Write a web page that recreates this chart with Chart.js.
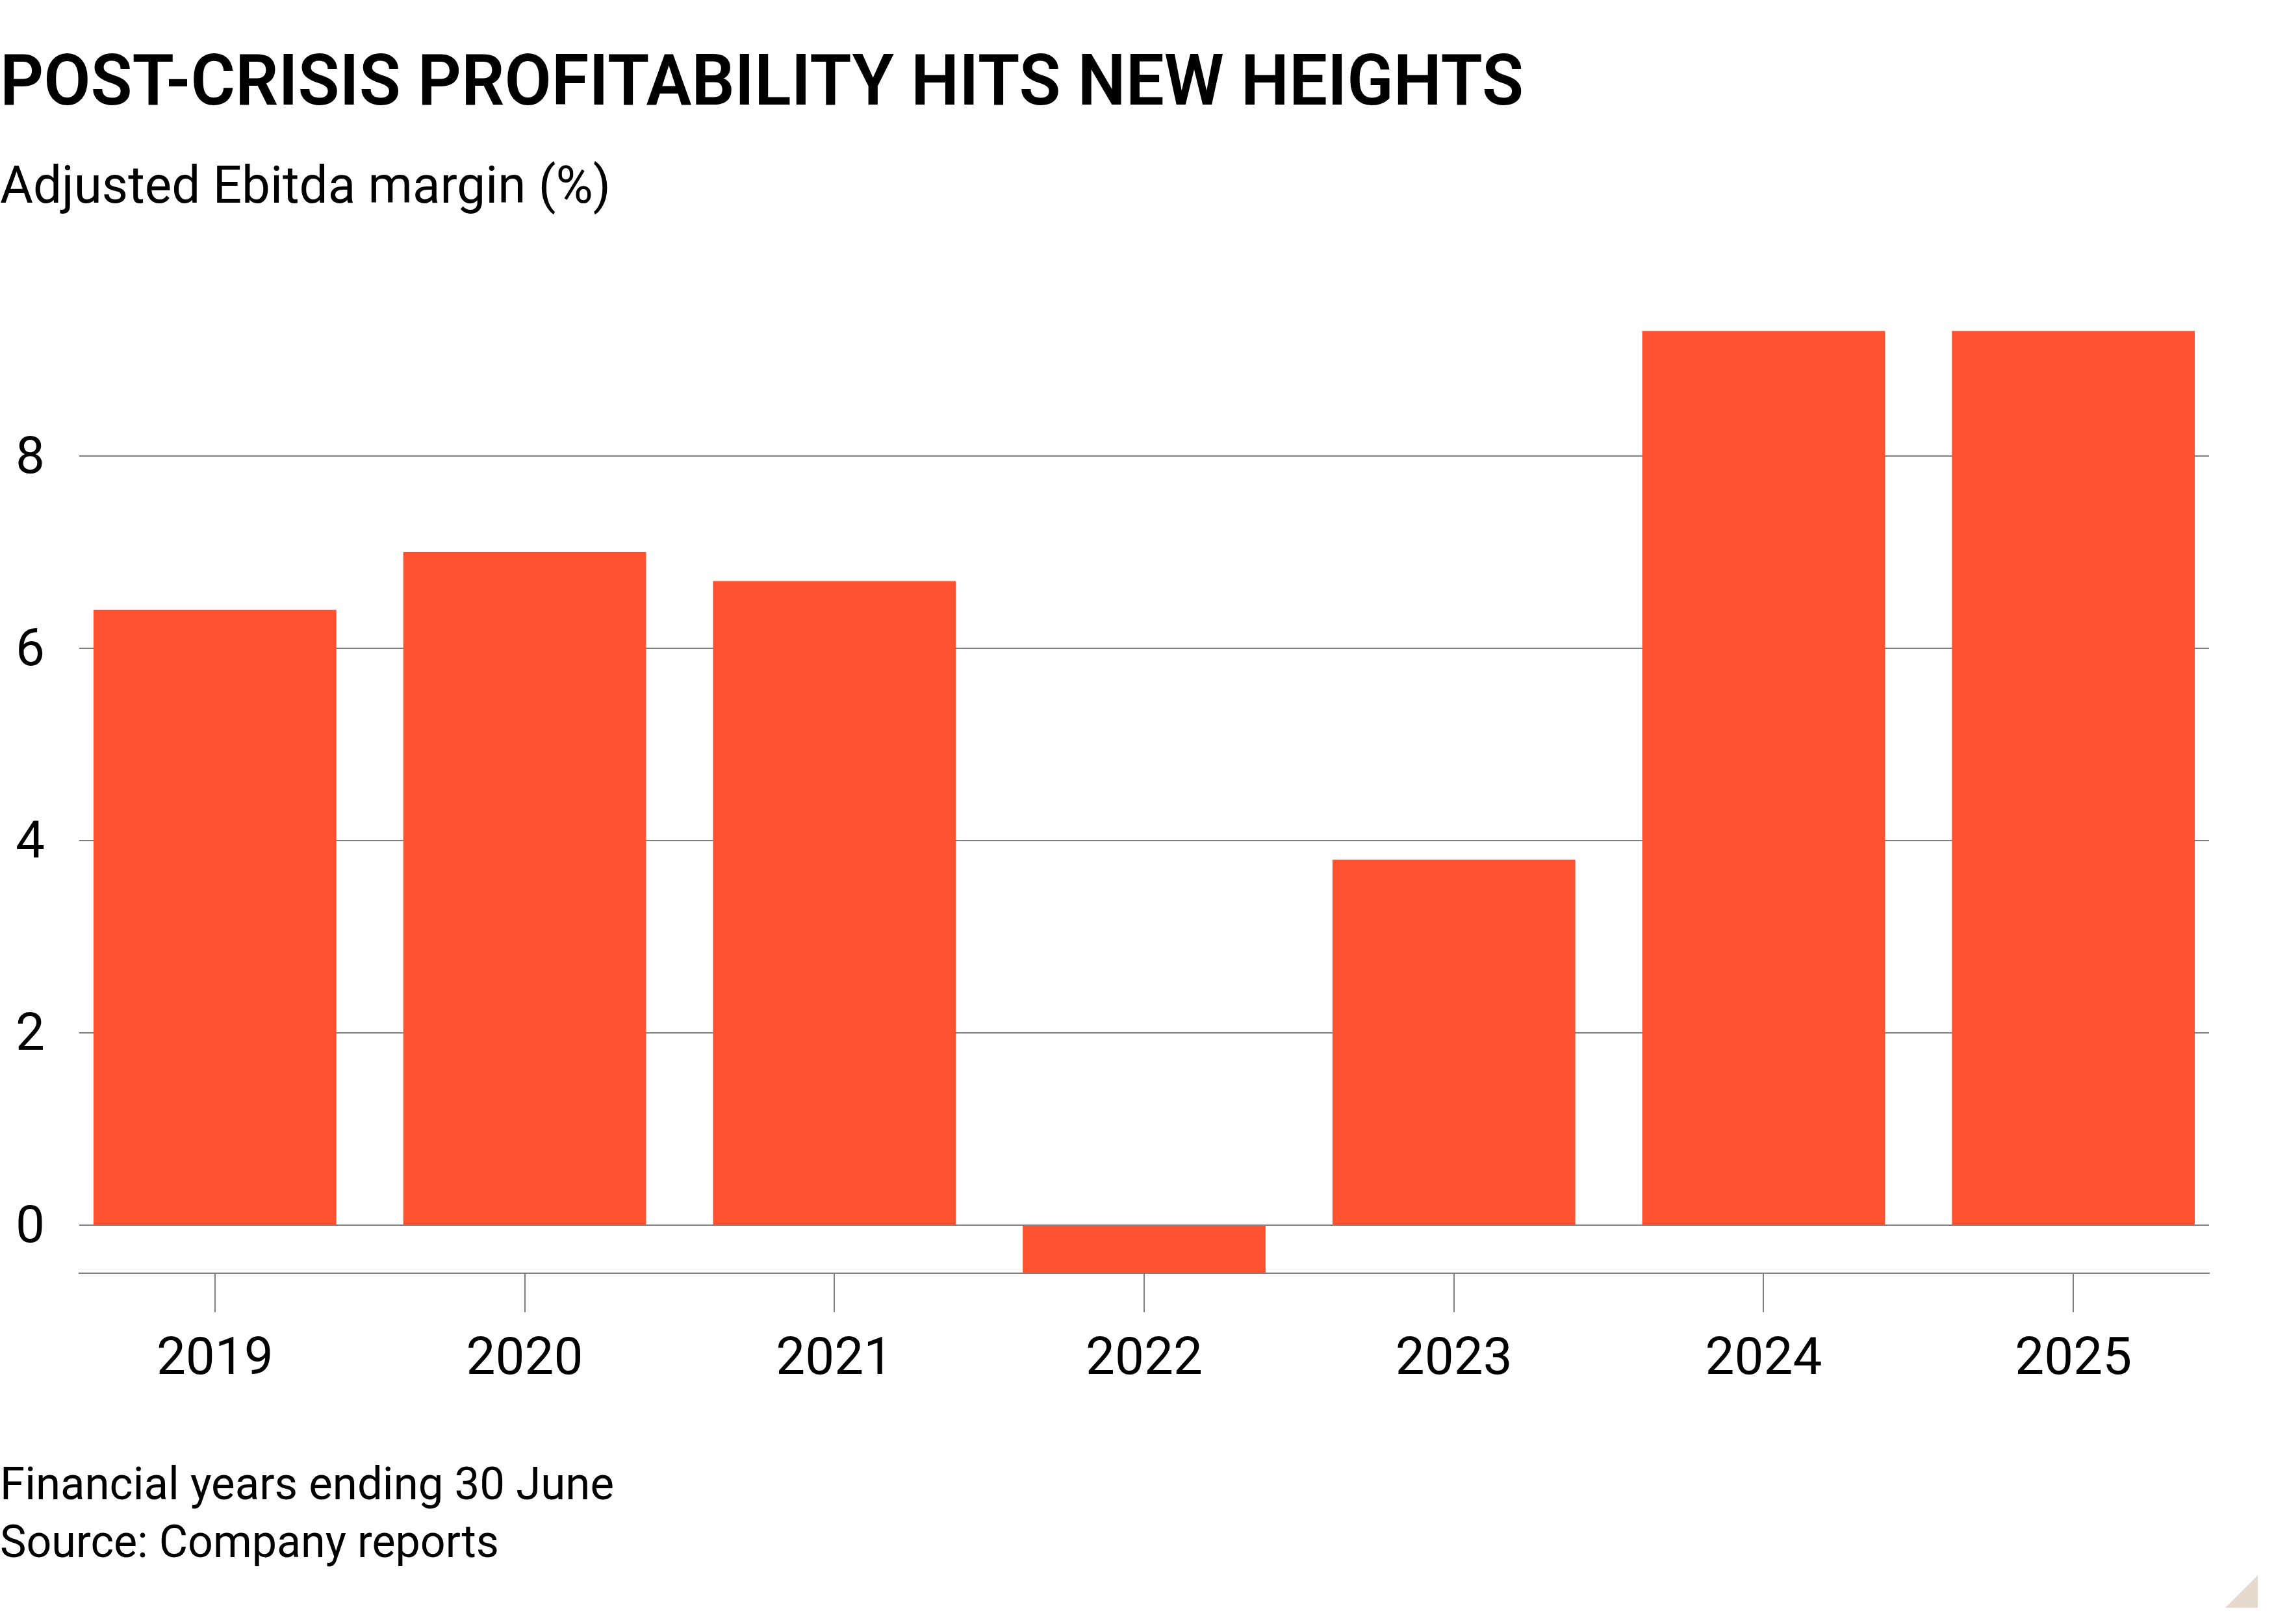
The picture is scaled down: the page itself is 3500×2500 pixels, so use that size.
<!DOCTYPE html>
<html>
<head>
<meta charset="utf-8">
<script src="https://cdn.jsdelivr.net/npm/chart.js@4.4.1/dist/chart.umd.min.js"></script>
<style>
  html, body { margin: 0; padding: 0; background: #fff; }
  body { width: 3500px; height: 2500px; position: relative; overflow: hidden; font-family: Roboto, "Noto Sans", sans-serif; color: #000; }
  .txt { position: absolute; left: 0; white-space: nowrap; line-height: 1; transform-origin: 0 0; display: inline-block; }
  #title { top: 69px; font-size: 110px; font-weight: 600; }
  #subtitle { top: 245px; font-size: 80px; }
  .foot { font-size: 70px; }
  #foot1 { top: 2249px; }
  #foot2 { top: 2338px; }
  #chartBox { position: absolute; left: 0; top: 400px; width: 3500px; height: 1800px; }
  #corner { position: absolute; left: 3425px; top: 2425px; width: 50px; height: 50px; background: #e5d9ce; clip-path: polygon(100% 0, 100% 100%, 0 100%); }
</style>
</head>
<body>
<div id="title" class="txt">POST-CRISIS PROFITABILITY HITS NEW HEIGHTS</div>
<div id="subtitle" class="txt">Adjusted Ebitda margin (%)</div>
<div id="chartBox"><canvas id="marginChart"></canvas></div>
<div id="foot1" class="txt foot">Financial years ending 30 June</div>
<div id="foot2" class="txt foot">Source: Company reports</div>
<div id="corner"></div>
<script>
const years = ["2019", "2020", "2021", "2022", "2023", "2024", "2025"];
const margins = [6.4, 7.0, 6.7, -0.5, 3.8, 9.3, 9.3];
const yTicks = [0, 2, 4, 6, 8];

const barColor = "#ff5230";
const lineColor = "#808080";
const tickFont = { family: "Roboto", size: 80 };

// squeeze the text boxes to the widths they have in the original
function fitWidth(id, target) {
  const el = document.getElementById(id);
  const w = el.getBoundingClientRect().width;
  el.style.transform = `scaleX(${target / w})`;
}

function drawChart() {
  const ctx = document.getElementById("marginChart").getContext("2d");
  new Chart(ctx, {
    type: "bar",
    data: {
      datasets: [{
        data: margins.map((v, i) => ({ x: i, y: v })),
        backgroundColor: barColor,
        borderWidth: 0,
        barPercentage: 0.784,
        categoryPercentage: 1
      }]
    },
    options: {
      responsive: true,
      maintainAspectRatio: false,
      animation: false,
      devicePixelRatio: 1,
      layout: { padding: { left: 24, right: 100, top: 80, bottom: 0 } },
      plugins: { legend: { display: false }, tooltip: { enabled: false } },
      scales: {
        x: {
          type: "linear",
          offset: false,
          min: -0.438,
          max: years.length - 1 + 0.438,
          afterBuildTicks: axis => { axis.ticks = years.map((y, i) => ({ value: i })); },
          afterFit: axis => { axis.height = 240; },
          ticks: {
            callback: v => years[v],
            font: tickFont,
            color: "#000",
            padding: 27,
            maxRotation: 0,
            autoSkip: false
          },
          grid: {
            offset: false,
            drawOnChartArea: false,
            drawTicks: true,
            tickLength: 60,
            tickColor: lineColor,
            tickWidth: 2,
            color: lineColor,
            lineWidth: 2
          },
          border: { display: true, color: lineColor, width: 2, z: 1 }
        },
        y: {
          min: -0.5,
          max: 9.5,
          afterBuildTicks: axis => { axis.ticks = yTicks.map(v => ({ value: v })); },
          afterFit: axis => { axis.width = 98; },
          ticks: {
            font: tickFont,
            color: "#000",
            crossAlign: "far",
            padding: 0,
            labelOffset: 6
          },
          grid: { drawTicks: false, color: lineColor, lineWidth: 2 },
          border: { display: false }
        }
      }
    }
  });
}

document.fonts.ready.then(() => {
  fitWidth("title", 2345);
  fitWidth("subtitle", 940);
  fitWidth("foot1", 945);
  fitWidth("foot2", 768);
  drawChart();
});
</script>
</body>
</html>
